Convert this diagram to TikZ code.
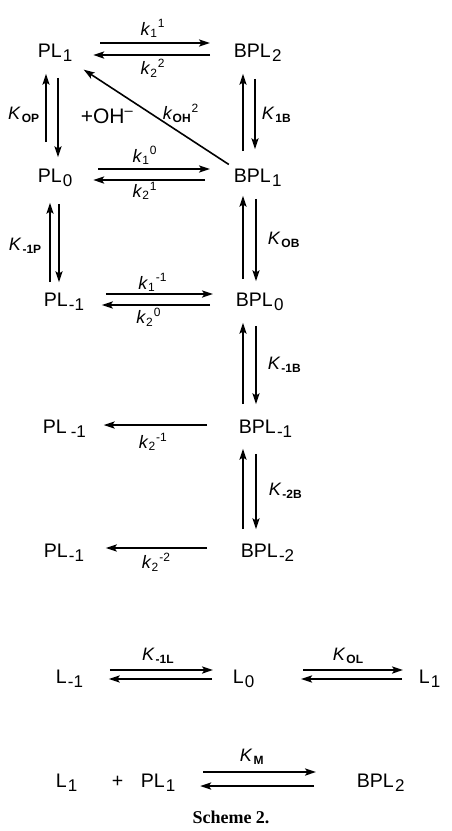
\documentclass[tikz,border=0pt]{standalone}
\usepackage{fontspec}
\setmainfont{Liberation Sans}
\newfontfamily\capfont{Liberation Serif}
\usetikzlibrary{arrows.meta}

\newcommand{\lo}[1]{\kern0.6pt\raisebox{-2pt}{\fontsize{8.5}{9}\selectfont #1}}
\newcommand{\rk}[2]{\textit{k}\textsubscript{#1}\textsuperscript{#2}}
\newcommand{\rK}[1]{\textit{K}\kern0.5pt\raisebox{-1.5pt}{\fontsize{6}{6}\selectfont\bfseries #1}}

\begin{document}
\begin{tikzpicture}[>={Stealth[length=5.5pt,width=3.6pt,inset=1.2pt]},x=0.5pt,y=-0.5pt,line width=0.8pt]
  \tikzstyle{sp}=[inner sep=0pt,anchor=base west,text height=7pt,text depth=2.5pt,font=\fontsize{9.8}{11}\selectfont]
  \tikzstyle{lab}=[inner sep=0pt,font=\fontsize{9}{10}\selectfont]
  \useasboundingbox (0,0) rectangle (451,831);
  % species
  \node[sp] (pla) at (37,57) {PL\lo{1}};
  \node[sp] (bpla) at (233,57) {BPL\lo{2}};
  \node[sp] (plb) at (37,182) {PL\lo{0}};
  \node[sp] (bplb) at (233,182) {BPL\lo{1}};
  \node[sp] (plc) at (43,306) {PL\lo{-1}};
  \node[sp] (bplc) at (235,306) {BPL\lo{0}};
  \node[sp] (pld) at (42,433) {PL\lo{\,-1}};
  \node[sp] (bpld) at (238,433) {BPL\lo{-1}};
  \node[sp] (ple) at (43,557) {PL\lo{-1}};
  \node[sp] (bple) at (240,557) {BPL\lo{-2}};
  \node[sp] (lm) at (55,683) {L\lo{-1}};
  \node[sp] (lz) at (232,683) {L\lo{0}};
  \node[sp] (lp) at (418,683) {L\lo{1}};
  \node[sp] (lone) at (55,787) {L\lo{1}};
  \node[sp] (plus) at (111,787) {+};
  \node[sp] (plm) at (140,787) {PL\lo{1}};
  \node[sp] (bplm) at (356,787) {BPL\lo{2}};
  \node[sp,font=\fontsize{10.5}{12}\selectfont] (oh) at (80,123) {+OH\textsuperscript{--}};
  % horizontal steps
  \draw[->,shorten <=13.5pt,shorten >=11.5pt] ([yshift=7pt]pla.base east) -- ([yshift=7pt]bpla.base west) node[lab,midway,above=2.5pt] (k11) {\rk{1}{1}};
  \draw[->,shorten <=11.5pt,shorten >=10pt] ([yshift=1pt]bpla.base west) -- ([yshift=1pt]pla.base east) node[lab,midway,below=1.5pt] (k22) {\rk{2}{2}};
  \draw[->,shorten <=12.5pt,shorten >=11.5pt] ([yshift=6.5pt]plb.base east) -- ([yshift=6.5pt]bplb.base west) node[lab,midway,above=2pt,xshift=-4pt] (k10) {\rk{1}{0}};
  \draw[->,shorten <=14pt,shorten >=10pt] ([yshift=1pt]bplb.base west) -- ([yshift=1pt]plb.base east) node[lab,midway,below=0.5pt,xshift=-4pt] (k21) {\rk{2}{1}};
  \draw[->,shorten <=10.5pt,shorten >=11pt] ([yshift=6pt]plc.base east) -- ([yshift=6pt]bplc.base west) node[lab,midway,above=1pt,xshift=-3.5pt] (k1m1) {\rk{1}{-1}};
  \draw[->,shorten <=12.5pt,shorten >=8.5pt] ([yshift=0.5pt]bplc.base west) -- ([yshift=0.5pt]plc.base east) node[lab,midway,below=1pt,xshift=-5.5pt] (k20) {\rk{2}{0}};
  \draw[->,shorten <=15.5pt,shorten >=8.5pt] ([yshift=4pt]bpld.base west) -- ([yshift=4pt]pld.base east) node[lab,midway,below=3.5pt,xshift=-4.5pt] (k2m1) {\rk{2}{-1}};
  \draw[->,shorten <=16.5pt,shorten >=10.5pt] ([yshift=4.5pt]bple.base west) -- ([yshift=4.5pt]ple.base east) node[lab,midway,below=2pt,xshift=-3pt] (k2m2) {\rk{2}{-2}};
  % diagonal
  \draw[->,shorten <=2.5pt,shorten >=6.25pt] (bplb.north west) -- (pla.south east) node[lab,midway,anchor=west,xshift=4.5pt,yshift=1pt] (koh) {\textit{k}\textsubscript{\bfseries OH}\textsuperscript{2}};
  % PL column
  \draw[->,shorten <=12.5pt,shorten >=5.5pt] ([xshift=4.5pt]plb.north west) -- ([xshift=4.5pt]pla.south west) node[lab,midway,left=3pt] (kop) {\rK{OP}};
  \draw[->,shorten <=7.5pt,shorten >=5pt] ([xshift=10.5pt]pla.south west) -- ([xshift=10.5pt]plb.north west);
  \draw[->,shorten <=4.5pt,shorten >=7.5pt] ([xshift=3.5pt]plc.north west) -- ([xshift=6.5pt]plb.south west) node[lab,midway,left=4pt,yshift=-3pt] (km1p) {\rK{-1P}};
  \draw[->,shorten <=8pt,shorten >=4.5pt] ([xshift=11pt]plb.south west) -- ([xshift=8pt]plc.north west);
  % BPL column
  \draw[->,shorten <=8pt,shorten >=5.5pt] ([xshift=5pt]bplb.north west) -- ([xshift=5pt]bpla.south west);
  \draw[->,shorten <=8pt,shorten >=9pt] ([xshift=11pt]bpla.south west) -- ([xshift=11pt]bplb.north west) node[lab,midway,right=3pt] (k1b) {\rK{1B}};
  \draw[->,shorten <=6pt,shorten >=4pt] ([xshift=4pt]bplc.north west) -- ([xshift=5pt]bplb.south west);
  \draw[->,shorten <=5.5pt,shorten >=5pt] ([xshift=11.5pt]bplb.south west) -- ([xshift=10.5pt]bplc.north west) node[lab,midway,right=5.5pt] (kob) {\rK{OB}};
  \draw[->,shorten <=7pt,shorten >=5.5pt] ([xshift=2.5pt]bpld.north west) -- ([xshift=4pt]bplc.south west);
  \draw[->,shorten <=7pt,shorten >=7pt] ([xshift=10.5pt]bplc.south west) -- ([xshift=9pt]bpld.north west) node[lab,midway,right=5.5pt] (km1b) {\rK{-1B}};
  \draw[->,shorten <=6.5pt,shorten >=5pt] ([xshift=1.5pt]bple.north west) -- ([xshift=2.5pt]bpld.south west);
  \draw[->,shorten <=7.5pt,shorten >=6.5pt] ([xshift=9pt]bpld.south west) -- ([xshift=8pt]bple.north west) node[lab,midway,right=6pt] (km2b) {\rK{-2B}};
  % free ligand
  \draw[->,shorten <=13pt,shorten >=9.5pt] ([yshift=6.5pt]lm.base east) -- ([yshift=6.5pt]lz.base west) node[lab,midway,above=3pt] (km1l) {\rK{-1L}};
  \draw[->,shorten <=10pt,shorten >=12.5pt] ([yshift=2pt]lz.base west) -- ([yshift=2pt]lm.base east);
  \draw[->,shorten <=24pt,shorten >=7.5pt] ([yshift=6.5pt]lz.base east) -- ([yshift=6.5pt]lp.base west) node[lab,pos=0.57,above=3pt] (kol) {\rK{OL}};
  \draw[->,shorten <=8pt,shorten >=23pt] ([yshift=2pt]lp.base west) -- ([yshift=2pt]lz.base east);
  % binding
  \draw[->,shorten <=13.5pt,shorten >=20pt] ([yshift=7.5pt]plm.base east) -- ([yshift=7.5pt]bplm.base west) node[lab,pos=0.42,above=3.5pt] (km) {\rK{M}};
  \draw[->,shorten <=21pt,shorten >=12pt] ([yshift=0.5pt]bplm.base west) -- ([yshift=0.5pt]plm.base east);
  \node[font=\capfont\bfseries\fontsize{9}{10}\selectfont,anchor=base,inner sep=0pt] (cap) at (231,823) {Scheme 2.};
\end{tikzpicture}
\end{document}
